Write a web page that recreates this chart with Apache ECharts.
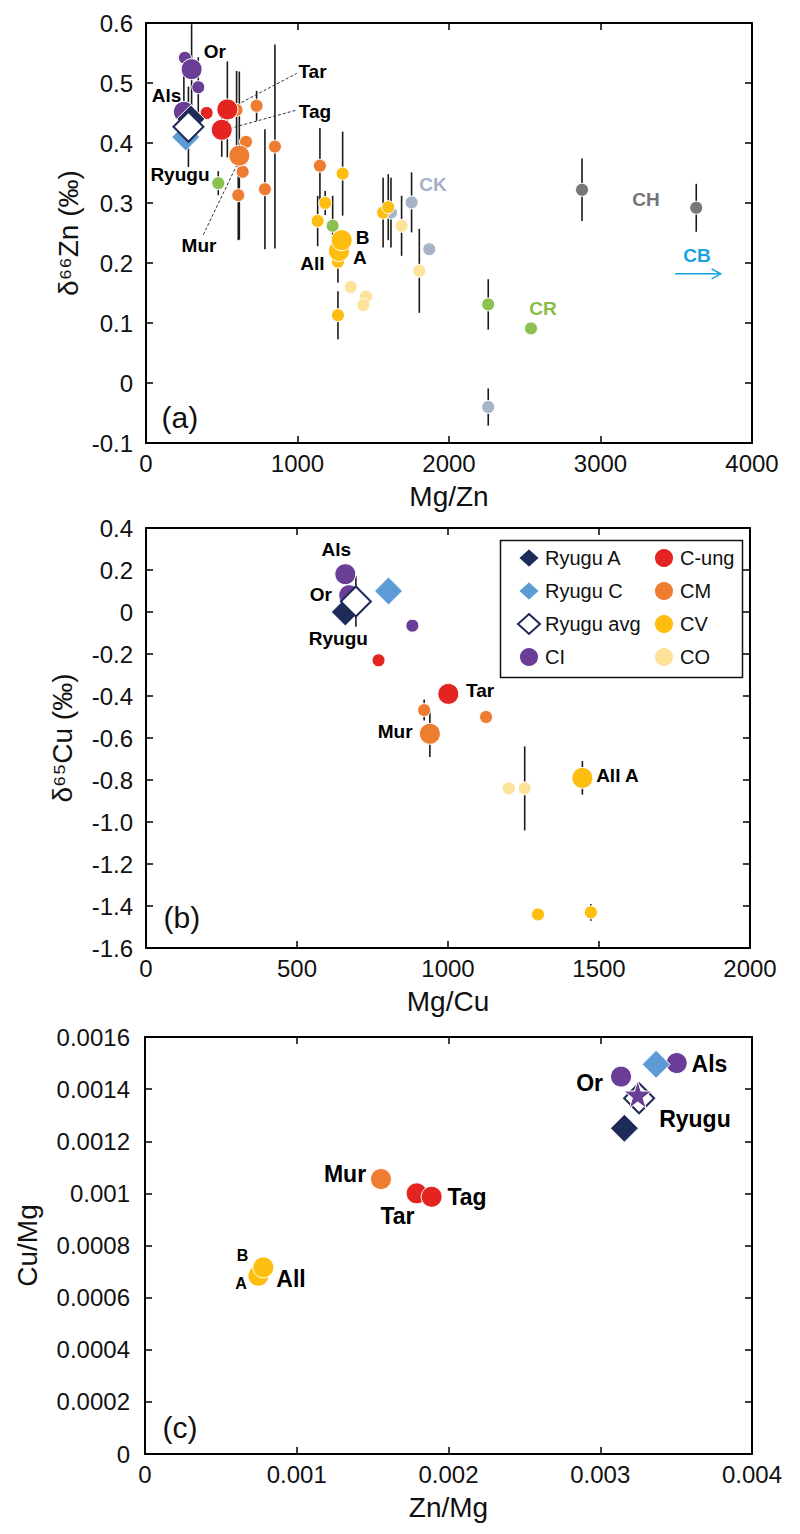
<!DOCTYPE html>
<html>
<head>
<meta charset="utf-8">
<script src="https://cdn.jsdelivr.net/npm/echarts@6/dist/echarts.min.js"></script>
<style>
  html, body { margin: 0; background: #fff; }
  #chart { width: 800px; height: 1534px; }
</style>
</head>
<body>
<div id="chart"></div>
<script>
// rows: [x, y, error half-width (0 = none), sample name ('' = unnamed)]
// (a) Mg/Zn vs d66Zn
const znCI = [[257, 0.542, 0, ''], [345, 0.493, 0.05, ''], [250, 0.452, 0.06, 'Als'], [301, 0.523, 0.075, 'Or']];
const znCung = [[400, 0.45, 0, ''], [537, 0.456, 0.08, 'Tar'], [500, 0.422, 0.045, 'Tag']];
const znCM = [[598, 0.455, 0.065, ''], [730, 0.462, 0.025, ''], [660, 0.402, 0, ''], [638, 0.352, 0, ''],
  [609, 0.313, 0.075, ''], [851, 0.394, 0.17, ''], [785, 0.323, 0.1, ''], [1148, 0.362, 0.063, ''], [616, 0.379, 0.14, 'Mur']];
const znCV = [[1298, 0.349, 0.07, ''], [1183, 0.30, 0.02, ''], [1133, 0.27, 0.042, ''], [1565, 0.284, 0.058, ''],
  [1599, 0.293, 0.055, ''], [1267, 0.202, 0.035, ''], [1267, 0.113, 0.04, ''], [1274, 0.22, 0, 'All A'], [1292, 0.238, 0, 'All B']];
const znCO = [[1351, 0.16, 0, ''], [1452, 0.144, 0, ''], [1435, 0.13, 0, ''], [1687, 0.262, 0.05, ''], [1804, 0.187, 0.07, '']];
const znCR = [[477, 0.333, 0.02, ''], [1232, 0.262, 0.05, ''], [2259, 0.131, 0.042, ''], [2541, 0.091, 0, '']];
const znCK = [[1617, 0.284, 0.058, ''], [1753, 0.301, 0.05, ''], [1870, 0.223, 0, ''], [2259, -0.04, 0.031, '']];
const znCH = [[2878, 0.322, 0.052, ''], [3632, 0.292, 0.04, '']];
const znRyuguA = [[296, 0.44, 0, '']];
const znRyuguC = [[262, 0.41, 0, '']];
const znRyuguAvg = [[280, 0.427, 0.067, '']];

// (b) Mg/Cu vs d65Cu
const cuCI = [[882, -0.065, 0, ''], [660, 0.18, 0, 'Als'], [673, 0.08, 0, 'Or']];
const cuCung = [[770, -0.23, 0, ''], [1001, -0.39, 0, 'Tar']];
const cuCM = [[921, -0.467, 0.05, ''], [1126, -0.5, 0, ''], [940, -0.58, 0.11, 'Mur']];
const cuCV = [[1298, -1.44, 0, ''], [1473, -1.43, 0.04, ''], [1445, -0.79, 0.08, 'All A']];
const cuCO = [[1201, -0.84, 0, ''], [1254, -0.84, 0.2, '']];
const cuRyuguC = [[803, 0.1, 0, '']];
const cuRyuguA = [[660, 0.0, 0.035, '']];
const cuRyuguAvg = [[695, 0.05, 0.12, '']];

// (c) Zn/Mg vs Cu/Mg
const ratCI = [[0.003504, 0.0015, 0, 'Als'], [0.003137, 0.001448, 0, 'Or']];
const ratCIavg = [[0.003247, 0.00138, 0, 'CI']];
const ratCung = [[0.00179, 0.001, 0, 'Tar'], [0.001889, 0.000987, 0, 'Tag']];
const ratCM = [[0.001555, 0.001055, 0, 'Mur']];
const ratCV = [[0.000747, 0.000684, 0, 'All A'], [0.00078, 0.000716, 0, 'All B']];
const ratRyuguC = [[0.003368, 0.001495, 0, '']];
const ratRyuguA = [[0.003159, 0.00125, 0, '']];
const ratRyuguAvg = [[0.003256, 0.001365, 0, '']];

// text notes in data units: [text, x, y]
const notesA = [['Or', 455, 0.553], ['Als', 135, 0.479], ['Tar', 1099, 0.519], ['Tag', 1115, 0.453],
  ['Ryugu', 224, 0.347], ['Mur', 350, 0.23], ['All', 1099, 0.199], ['A', 1412, 0.209], ['B', 1429, 0.243]];
const leadersA = [[543, 0.456, 995, 0.516], [521, 0.422, 995, 0.455], [378, 0.247, 620, 0.374]];
const groupNotesA = [['CK', 1894, 0.331, '#a3b0c6'], ['CH', 3300, 0.306, '#747474'],
  ['CR', 2620, 0.125, '#86bd45'], ['CB', 3637, 0.213, '#16a2df']];
const arrowCB = [[3493, 0.182, 3793, 0.182]];
const notesB = [['Als', 630, 0.298], ['Or', 579, 0.081], ['Ryugu', 637, -0.124], ['Tar', 1106, -0.374],
  ['Mur', 825, -0.569], ['All A', 1561, -0.779]];
const notesC = [['Als', 0.00372, 0.001496], ['Or', 0.00293, 0.001422], ['Ryugu', 0.003624, 0.001287],
  ['Mur', 0.001318, 0.001076], ['Tar', 0.001664, 0.000913], ['Tag', 0.002122, 0.000985], ['All', 0.000962, 0.000673]];
const notesCAB = [['B', 0.000643, 0.00076], ['A', 0.000633, 0.000656]];
const panelTags = [['(a)', 224, -0.058], ['(b)', 119, -1.457], ['(c)', 0.00023, 0.0001]];

const legendLeft = ['Ryugu A', 'Ryugu C', 'Ryugu avg', 'CI'];
const legendRight = ['C-ung', 'CM', 'CV', 'CO'];

const FONT = '"Liberation Sans", Arial, Helvetica, sans-serif';
const STAR = 'path://M50,0 L61,35 L98,35 L68,57 L79,91 L50,70 L21,91 L32,57 L2,35 L39,35 Z';
const STYLE = {
  'CI': { color: '#6a3d96' },
  'CI avg': { color: '#6a3d96', symbol: STAR, size: 28 },
  'C-ung': { color: '#e32420' },
  'CM': { color: '#ef7d31' },
  'CV': { color: '#fdbe10' },
  'CO': { color: '#fde39a' },
  'CR': { color: '#8cc152' },
  'CK': { color: '#a7b3c7' },
  'CH': { color: '#787878' },
  'Ryugu A': { color: '#1e2a57', symbol: 'diamond', size: 28 },
  'Ryugu C': { color: '#5c9bd6', symbol: 'diamond', size: 28 },
  'Ryugu avg': { color: '#fff', border: '#1e2a57', symbol: 'diamond', size: 30 }
};

function scatter(k, name, rows) {
  const s = STYLE[name];
  return {
    type: 'scatter', name, xAxisIndex: 2 * k, yAxisIndex: 2 * k, silent: true, z: 3,
    symbol: s.symbol || 'circle',
    data: rows.map(r => ({ value: [r[0], r[1]], symbolSize: s.size || (r[3] ? 21 : 13) })),
    itemStyle: { color: s.color, borderColor: s.border || '#fff', borderWidth: s.border ? 2 : 1, opacity: 1 }
  };
}

function errorBars(k, groups) {
  const data = [];
  groups.forEach(rows => rows.forEach(r => { if (r[2]) data.push([r[0], r[1] - r[2], r[1] + r[2]]); }));
  return {
    type: 'custom', xAxisIndex: 2 * k, yAxisIndex: 2 * k, silent: true, clip: true, z: 2,
    encode: { x: 0, y: [1, 2] }, data,
    renderItem: (p, api) => {
      const a = api.coord([api.value(0), api.value(1)]);
      const b = api.coord([api.value(0), api.value(2)]);
      return { type: 'line', shape: { x1: a[0], y1: a[1], x2: b[0], y2: b[1] }, style: { stroke: '#1a1a1a', lineWidth: 1.6 } };
    }
  };
}

function segments(k, rows, color, dashed, arrow) {
  return {
    type: 'custom', xAxisIndex: 2 * k, yAxisIndex: 2 * k, silent: true, z: 2, data: rows,
    renderItem: (p, api) => {
      const a = api.coord([api.value(0), api.value(1)]);
      const b = api.coord([api.value(2), api.value(3)]);
      const style = { stroke: color, lineWidth: dashed ? 1 : 1.5, lineDash: dashed ? [3, 2] : null, fill: null };
      const kids = [{ type: 'line', shape: { x1: a[0], y1: a[1], x2: b[0], y2: b[1] }, style }];
      if (arrow) {
        kids.push({ type: 'polyline', shape: { points: [[b[0] - 9, b[1] - 5], [b[0], b[1]], [b[0] - 9, b[1] + 5]] }, style });
      }
      return { type: 'group', children: kids };
    }
  };
}

function notes(k, rows, size, weight, color) {
  return {
    type: 'scatter', xAxisIndex: 2 * k, yAxisIndex: 2 * k, symbolSize: 0, silent: true, z: 6,
    itemStyle: { opacity: 1 },
    data: rows.map(r => ({ name: r[0], value: [r[1], r[2]], label: r[3] ? { color: r[3] } : undefined })),
    label: { show: true, position: 'inside', formatter: '{b}', fontSize: size, fontWeight: weight,
      fontFamily: FONT, color: color || '#000', opacity: 1 }
  };
}

function axisPair(k, dim, min, max, interval, name, nameGap, fmt, margin) {
  const base = {
    gridIndex: k, type: 'value', min, max, interval, splitLine: { show: false },
    axisLine: { onZero: false, lineStyle: { color: '#000', width: 2 } },
    axisTick: { inside: true, length: 7, lineStyle: { color: '#000', width: 1.5 } }
  };
  return [
    Object.assign({}, base, {
      position: dim === 'x' ? 'bottom' : 'left', name, nameLocation: 'middle', nameGap, nameMoveOverlap: false,
      nameTextStyle: { fontSize: 28, color: '#111', fontFamily: FONT },
      axisLabel: { fontSize: 24, color: '#111', fontFamily: FONT, margin, formatter: fmt }
    }),
    Object.assign({}, base, { position: dim === 'x' ? 'top' : 'right', axisLabel: { show: false } })
  ];
}

const plain = v => String(+v.toPrecision(6));
const oneDec = v => (v === 0 ? '0' : v.toFixed(1));

const panels = [
  [['CK', znCK], ['CH', znCH], ['CR', znCR], ['CO', znCO], ['CV', znCV], ['CM', znCM], ['C-ung', znCung],
   ['CI', znCI], ['Ryugu A', znRyuguA], ['Ryugu C', znRyuguC], ['Ryugu avg', znRyuguAvg]],
  [['CO', cuCO], ['CV', cuCV], ['CM', cuCM], ['C-ung', cuCung], ['CI', cuCI],
   ['Ryugu C', cuRyuguC], ['Ryugu A', cuRyuguA], ['Ryugu avg', cuRyuguAvg]],
  [['CV', ratCV], ['CM', ratCM], ['C-ung', ratCung], ['CI', ratCI],
   ['Ryugu C', ratRyuguC], ['Ryugu A', ratRyuguA], ['Ryugu avg', ratRyuguAvg], ['CI avg', ratCIavg]]
];

const series = [];
panels.forEach((groups, k) => {
  series.push(errorBars(k, groups.map(g => g[1])));
  groups.forEach(g => series.push(scatter(k, g[0], g[1])));
});
series.push(
  segments(0, leadersA, '#333', true, false),
  segments(0, arrowCB, '#16a2df', false, true),
  notes(0, notesA, 19, 'bold'),
  notes(0, groupNotesA, 19, 'bold'),
  notes(1, notesB, 19, 'bold'),
  notes(2, notesC, 23, 'bold'),
  notes(2, notesCAB, 16, 'bold')
);
panelTags.forEach((t, k) => series.push(notes(k, [t], 30, 'normal', '#111')));

const xAxes = [].concat(
  axisPair(0, 'x', 0, 4000, 1000, 'Mg/Zn', 39, plain, 8),
  axisPair(1, 'x', 0, 2000, 500, 'Mg/Cu', 39, plain, 8),
  axisPair(2, 'x', 0, 0.004, 0.001, 'Zn/Mg', 39, plain, 8)
);
const yAxes = [].concat(
  axisPair(0, 'y', -0.1, 0.6, 0.1, 'δ⁶⁶Zn (‰)', 64, oneDec, 13),
  axisPair(1, 'y', -1.6, 0.4, 0.2, 'δ⁶⁵Cu (‰)', 70, oneDec, 13),
  axisPair(2, 'y', 0, 0.0016, 0.0002, 'Cu/Mg', 104, plain, 15)
);

const legendBase = {
  orient: 'vertical', top: 542, itemWidth: 22, itemHeight: 20, itemGap: 11, selectedMode: false,
  textStyle: { fontSize: 20, color: '#111', fontFamily: FONT }
};

const chart = echarts.init(document.getElementById('chart'), null, { renderer: 'svg' });
chart.setOption({
  animation: false,
  backgroundColor: '#fff',
  grid: [
    { left: 146, top: 23, width: 606, height: 420 },
    { left: 146, top: 528, width: 604, height: 420 },
    { left: 145, top: 1037, width: 607, height: 417 }
  ],
  xAxis: xAxes,
  yAxis: yAxes,
  legend: [
    Object.assign({}, legendBase, { left: 512, data: legendLeft }),
    Object.assign({}, legendBase, { left: 648, data: legendRight })
  ],
  graphic: [{
    type: 'rect', left: 498, top: 538, silent: true,
    shape: { width: 242, height: 137 }, style: { fill: 'none', stroke: '#111', lineWidth: 1.5 }
  }],
  series
});
</script>
</body>
</html>
